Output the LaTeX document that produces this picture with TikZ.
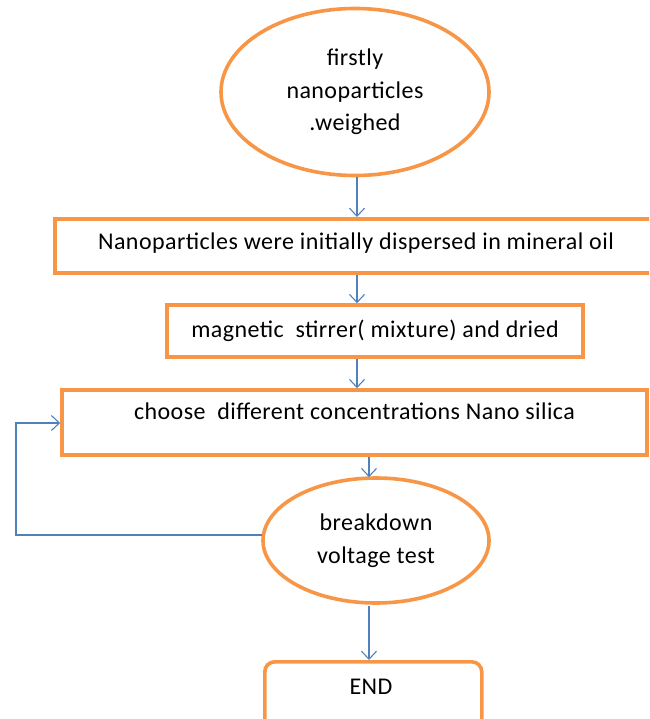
\documentclass[tikz,border=0pt]{standalone}
\usepackage{fontspec}
\setmainfont[LetterSpace=1.8]{Carlito}
\usetikzlibrary{shapes.geometric,arrows.meta,calc}
\definecolor{borange}{HTML}{F79646}
\definecolor{lblue}{HTML}{4F81BD}
\tikzset{
  box/.style={draw=borange,line width=3.6pt,rectangle,inner sep=0pt,font=\fontsize{24}{29}\selectfont,align=center},
  oval/.style={draw=borange,line width=3.6pt,ellipse,inner sep=0pt,font=\fontsize{24}{29}\selectfont,align=center},
  conn/.style={draw=lblue,line width=1.1pt,-{Straight Barb[length=8pt,width=15pt,line width=1.1pt]}}
}
\begin{document}
\begin{tikzpicture}[x=1pt,y=-1pt]
\useasboundingbox (0,0) rectangle (649,719);
\clip (0,0) rectangle (649,719);
\node[oval,minimum width=268pt,minimum height=167pt,font=\fontsize{24}{32.5}\selectfont] (e1) at (355,92) {firstly\\nanoparticles\\.weighed};
\node[box,minimum width=610pt,minimum height=54pt,anchor=north west] (r1) at (53,217) {};
\node at (356,243) [font=\fontsize{24}{29}\selectfont] (t1) {Nanoparticles were initially dispersed in mineral oil};
\node[box,minimum width=416pt,minimum height=52pt] (r2) at (375,331) {magnetic\ \ stirrer( mixture) and dried};
\node[box,minimum width=585pt,minimum height=65pt] (r3) at (354.5,422.5) {choose\ \ different concentrations Nano silica\\[-6pt]\mbox{}};
\node[oval,minimum width=226pt,minimum height=125pt,font=\fontsize{24}{33}\selectfont] (e2) at (376,540.5) {breakdown\\voltage test};
\node[box,rounded corners=10pt,minimum width=217pt,minimum height=70pt,anchor=north west] (end) at (263,660) {};
\node at (371,687) [font=\fontsize{24}{29}\selectfont] (t2) {END};
\coordinate (ax) at (357,0);
\coordinate (bx) at (369,0);
\coordinate (lx) at (16,0);
\coordinate (fy) at (0,535);
\draw[conn] (e1.south -| ax) -- (r1.north -| ax);
\draw[conn] (r1.south -| ax) -- (r2.north -| ax);
\draw[conn] (r2.south -| ax) -- (r3.north -| ax);
\draw[conn] (r3.south -| bx) -- ($(e2.north -| bx)+(0,1)$);
\draw[conn] ($(e2.south -| bx)+(0,1)$) -- (end.north -| bx);
\coordinate (fb) at (0,423);
\draw[conn] ($(fy -| e2.west)+(1,0)$) -- (fy -| lx) -- (fb -| lx) -- (fb -| r3.west);
\end{tikzpicture}
\end{document}
